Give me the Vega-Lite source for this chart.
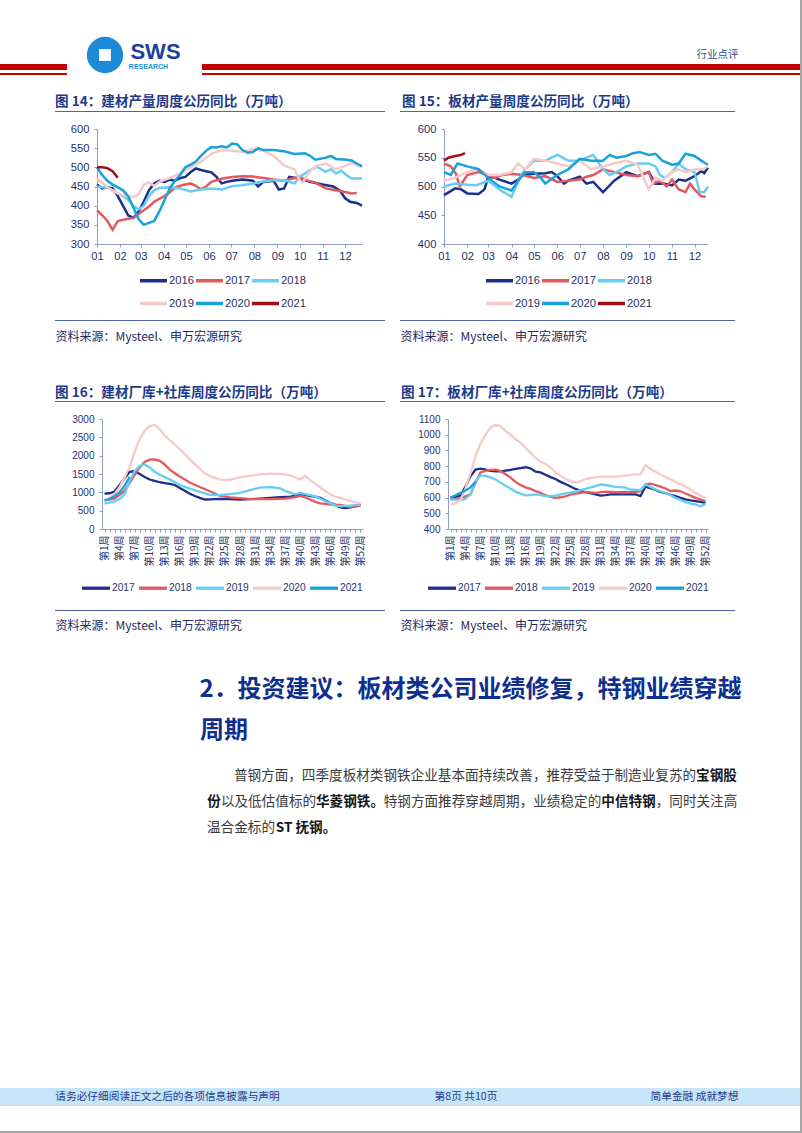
{
"$schema": "https://vega.github.io/schema/vega-lite/v6.json",
"padding": 0,
"background": "white",
"spacing": 0,
"bounds": "flush",
"data": {"values": []},
"config": {"view": {"stroke": null}, "axis": {"grid": false}},
"resolve": {"scale": {"color": "independent"}, "legend": {"color": "independent"}},
"datasets": {
"c14": [
{"d":"2021-01-01","s":"2016","v":455},{"d":"2021-01-08","s":"2016","v":445},{"d":"2021-01-15","s":"2016","v":448},{"d":"2021-01-22","s":"2016","v":445},{"d":"2021-01-29","s":"2016","v":425},{"d":"2021-02-05","s":"2016","v":400},{"d":"2021-02-12","s":"2016","v":375},{"d":"2021-02-19","s":"2016","v":368},{"d":"2021-02-26","s":"2016","v":385},{"d":"2021-03-05","s":"2016","v":410},{"d":"2021-03-12","s":"2016","v":440},{"d":"2021-03-19","s":"2016","v":458},{"d":"2021-03-26","s":"2016","v":465},{"d":"2021-04-02","s":"2016","v":462},{"d":"2021-04-09","s":"2016","v":468},{"d":"2021-04-16","s":"2016","v":465},{"d":"2021-04-23","s":"2016","v":472},{"d":"2021-04-30","s":"2016","v":475},{"d":"2021-05-07","s":"2016","v":487},{"d":"2021-05-14","s":"2016","v":497},{"d":"2021-05-21","s":"2016","v":493},{"d":"2021-05-28","s":"2016","v":490},{"d":"2021-06-04","s":"2016","v":487},{"d":"2021-06-11","s":"2016","v":475},{"d":"2021-06-18","s":"2016","v":458},{"d":"2021-06-25","s":"2016","v":462},{"d":"2021-07-02","s":"2016","v":465},{"d":"2021-07-16","s":"2016","v":468},{"d":"2021-07-30","s":"2016","v":465},{"d":"2021-08-06","s":"2016","v":450},{"d":"2021-08-13","s":"2016","v":462},{"d":"2021-08-27","s":"2016","v":465},{"d":"2021-09-03","s":"2016","v":442},{"d":"2021-09-10","s":"2016","v":445},{"d":"2021-09-17","s":"2016","v":475},{"d":"2021-09-24","s":"2016","v":473},{"d":"2021-10-01","s":"2016","v":470},{"d":"2021-10-15","s":"2016","v":462},{"d":"2021-11-01","s":"2016","v":455},{"d":"2021-11-15","s":"2016","v":450},{"d":"2021-11-24","s":"2016","v":440},{"d":"2021-12-01","s":"2016","v":420},{"d":"2021-12-08","s":"2016","v":410},{"d":"2021-12-17","s":"2016","v":407},{"d":"2021-12-24","s":"2016","v":400},
{"d":"2021-01-01","s":"2017","v":388},{"d":"2021-01-08","s":"2017","v":375},{"d":"2021-01-15","s":"2017","v":360},{"d":"2021-01-22","s":"2017","v":337},{"d":"2021-01-29","s":"2017","v":360},{"d":"2021-02-05","s":"2017","v":363},{"d":"2021-02-12","s":"2017","v":366},{"d":"2021-02-19","s":"2017","v":368},{"d":"2021-02-26","s":"2017","v":378},{"d":"2021-03-05","s":"2017","v":388},{"d":"2021-03-12","s":"2017","v":398},{"d":"2021-03-19","s":"2017","v":410},{"d":"2021-03-26","s":"2017","v":418},{"d":"2021-04-02","s":"2017","v":425},{"d":"2021-04-09","s":"2017","v":435},{"d":"2021-04-16","s":"2017","v":447},{"d":"2021-04-23","s":"2017","v":452},{"d":"2021-04-30","s":"2017","v":455},{"d":"2021-05-07","s":"2017","v":458},{"d":"2021-05-14","s":"2017","v":452},{"d":"2021-05-21","s":"2017","v":443},{"d":"2021-05-28","s":"2017","v":450},{"d":"2021-06-04","s":"2017","v":462},{"d":"2021-06-18","s":"2017","v":470},{"d":"2021-07-02","s":"2017","v":475},{"d":"2021-07-16","s":"2017","v":477},{"d":"2021-07-30","s":"2017","v":476},{"d":"2021-08-13","s":"2017","v":472},{"d":"2021-08-27","s":"2017","v":468},{"d":"2021-09-10","s":"2017","v":465},{"d":"2021-09-24","s":"2017","v":472},{"d":"2021-10-01","s":"2017","v":475},{"d":"2021-10-08","s":"2017","v":468},{"d":"2021-10-22","s":"2017","v":460},{"d":"2021-11-05","s":"2017","v":445},{"d":"2021-11-19","s":"2017","v":440},{"d":"2021-12-03","s":"2017","v":435},{"d":"2021-12-10","s":"2017","v":432},{"d":"2021-12-17","s":"2017","v":433},
{"d":"2021-01-01","s":"2018","v":450},{"d":"2021-01-08","s":"2018","v":448},{"d":"2021-01-15","s":"2018","v":447},{"d":"2021-01-22","s":"2018","v":440},{"d":"2021-01-29","s":"2018","v":432},{"d":"2021-02-05","s":"2018","v":425},{"d":"2021-02-12","s":"2018","v":415},{"d":"2021-02-19","s":"2018","v":400},{"d":"2021-02-26","s":"2018","v":390},{"d":"2021-03-05","s":"2018","v":400},{"d":"2021-03-12","s":"2018","v":425},{"d":"2021-03-19","s":"2018","v":440},{"d":"2021-03-26","s":"2018","v":446},{"d":"2021-04-09","s":"2018","v":448},{"d":"2021-04-23","s":"2018","v":445},{"d":"2021-05-07","s":"2018","v":437},{"d":"2021-05-21","s":"2018","v":442},{"d":"2021-06-04","s":"2018","v":445},{"d":"2021-06-18","s":"2018","v":442},{"d":"2021-07-02","s":"2018","v":451},{"d":"2021-07-16","s":"2018","v":453},{"d":"2021-07-30","s":"2018","v":458},{"d":"2021-08-13","s":"2018","v":463},{"d":"2021-08-27","s":"2018","v":466},{"d":"2021-09-10","s":"2018","v":467},{"d":"2021-09-24","s":"2018","v":458},{"d":"2021-10-01","s":"2018","v":475},{"d":"2021-10-15","s":"2018","v":493},{"d":"2021-10-25","s":"2018","v":501},{"d":"2021-11-05","s":"2018","v":488},{"d":"2021-11-12","s":"2018","v":495},{"d":"2021-11-19","s":"2018","v":484},{"d":"2021-11-26","s":"2018","v":491},{"d":"2021-12-03","s":"2018","v":480},{"d":"2021-12-10","s":"2018","v":471},{"d":"2021-12-24","s":"2018","v":471},
{"d":"2021-01-01","s":"2019","v":470},{"d":"2021-01-08","s":"2019","v":460},{"d":"2021-01-15","s":"2019","v":448},{"d":"2021-01-22","s":"2019","v":440},{"d":"2021-01-29","s":"2019","v":432},{"d":"2021-02-05","s":"2019","v":428},{"d":"2021-02-12","s":"2019","v":425},{"d":"2021-02-19","s":"2019","v":422},{"d":"2021-02-26","s":"2019","v":430},{"d":"2021-03-05","s":"2019","v":455},{"d":"2021-03-12","s":"2019","v":460},{"d":"2021-03-19","s":"2019","v":452},{"d":"2021-03-26","s":"2019","v":462},{"d":"2021-04-09","s":"2019","v":472},{"d":"2021-04-23","s":"2019","v":485},{"d":"2021-05-07","s":"2019","v":500},{"d":"2021-05-21","s":"2019","v":515},{"d":"2021-06-04","s":"2019","v":535},{"d":"2021-06-18","s":"2019","v":545},{"d":"2021-07-02","s":"2019","v":543},{"d":"2021-07-16","s":"2019","v":540},{"d":"2021-07-30","s":"2019","v":548},{"d":"2021-08-13","s":"2019","v":543},{"d":"2021-08-27","s":"2019","v":530},{"d":"2021-09-10","s":"2019","v":505},{"d":"2021-09-24","s":"2019","v":495},{"d":"2021-10-01","s":"2019","v":467},{"d":"2021-10-05","s":"2019","v":460},{"d":"2021-10-15","s":"2019","v":490},{"d":"2021-10-25","s":"2019","v":505},{"d":"2021-11-05","s":"2019","v":510},{"d":"2021-11-12","s":"2019","v":502},{"d":"2021-11-19","s":"2019","v":495},{"d":"2021-12-03","s":"2019","v":505},{"d":"2021-12-10","s":"2019","v":512},{"d":"2021-12-17","s":"2019","v":505},{"d":"2021-12-24","s":"2019","v":500},
{"d":"2021-01-01","s":"2020","v":500},{"d":"2021-01-08","s":"2020","v":480},{"d":"2021-01-15","s":"2020","v":465},{"d":"2021-01-22","s":"2020","v":455},{"d":"2021-01-29","s":"2020","v":448},{"d":"2021-02-05","s":"2020","v":440},{"d":"2021-02-12","s":"2020","v":425},{"d":"2021-02-19","s":"2020","v":395},{"d":"2021-02-26","s":"2020","v":365},{"d":"2021-03-05","s":"2020","v":350},{"d":"2021-03-12","s":"2020","v":355},{"d":"2021-03-19","s":"2020","v":360},{"d":"2021-03-26","s":"2020","v":385},{"d":"2021-04-02","s":"2020","v":415},{"d":"2021-04-09","s":"2020","v":445},{"d":"2021-04-16","s":"2020","v":465},{"d":"2021-04-23","s":"2020","v":480},{"d":"2021-04-30","s":"2020","v":500},{"d":"2021-05-07","s":"2020","v":507},{"d":"2021-05-14","s":"2020","v":515},{"d":"2021-05-21","s":"2020","v":530},{"d":"2021-05-28","s":"2020","v":543},{"d":"2021-06-04","s":"2020","v":553},{"d":"2021-06-11","s":"2020","v":552},{"d":"2021-06-18","s":"2020","v":555},{"d":"2021-06-25","s":"2020","v":552},{"d":"2021-07-02","s":"2020","v":562},{"d":"2021-07-09","s":"2020","v":560},{"d":"2021-07-16","s":"2020","v":545},{"d":"2021-07-23","s":"2020","v":538},{"d":"2021-07-30","s":"2020","v":540},{"d":"2021-08-06","s":"2020","v":550},{"d":"2021-08-13","s":"2020","v":545},{"d":"2021-08-27","s":"2020","v":545},{"d":"2021-09-10","s":"2020","v":542},{"d":"2021-09-24","s":"2020","v":535},{"d":"2021-10-08","s":"2020","v":537},{"d":"2021-10-15","s":"2020","v":530},{"d":"2021-10-22","s":"2020","v":520},{"d":"2021-11-05","s":"2020","v":525},{"d":"2021-11-12","s":"2020","v":530},{"d":"2021-11-19","s":"2020","v":522},{"d":"2021-12-03","s":"2020","v":520},{"d":"2021-12-10","s":"2020","v":518},{"d":"2021-12-17","s":"2020","v":510},{"d":"2021-12-24","s":"2020","v":503},
{"d":"2021-01-01","s":"2021","v":500},{"d":"2021-01-08","s":"2021","v":500},{"d":"2021-01-15","s":"2021","v":498},{"d":"2021-01-22","s":"2021","v":490},{"d":"2021-01-29","s":"2021","v":473}
],
"c15": [
{"d":"2021-01-01","s":"2016","v":485},{"d":"2021-01-10","s":"2016","v":492},{"d":"2021-01-16","s":"2016","v":497},{"d":"2021-01-24","s":"2016","v":495},{"d":"2021-02-01","s":"2016","v":488},{"d":"2021-02-16","s":"2016","v":487},{"d":"2021-02-24","s":"2016","v":495},{"d":"2021-03-01","s":"2016","v":517},{"d":"2021-03-10","s":"2016","v":515},{"d":"2021-03-16","s":"2016","v":512},{"d":"2021-04-01","s":"2016","v":505},{"d":"2021-04-10","s":"2016","v":512},{"d":"2021-04-16","s":"2016","v":520},{"d":"2021-05-01","s":"2016","v":522},{"d":"2021-05-16","s":"2016","v":523},{"d":"2021-05-25","s":"2016","v":525},{"d":"2021-06-01","s":"2016","v":518},{"d":"2021-06-10","s":"2016","v":505},{"d":"2021-06-16","s":"2016","v":510},{"d":"2021-07-01","s":"2016","v":517},{"d":"2021-07-10","s":"2016","v":505},{"d":"2021-07-19","s":"2016","v":508},{"d":"2021-08-01","s":"2016","v":490},{"d":"2021-08-16","s":"2016","v":510},{"d":"2021-09-01","s":"2016","v":525},{"d":"2021-09-16","s":"2016","v":518},{"d":"2021-10-01","s":"2016","v":525},{"d":"2021-10-10","s":"2016","v":505},{"d":"2021-10-22","s":"2016","v":505},{"d":"2021-11-01","s":"2016","v":502},{"d":"2021-11-10","s":"2016","v":512},{"d":"2021-11-19","s":"2016","v":510},{"d":"2021-12-01","s":"2016","v":518},{"d":"2021-12-10","s":"2016","v":527},{"d":"2021-12-14","s":"2016","v":523},{"d":"2021-12-19","s":"2016","v":533},
{"d":"2021-01-01","s":"2017","v":540},{"d":"2021-01-10","s":"2017","v":535},{"d":"2021-01-17","s":"2017","v":522},{"d":"2021-01-22","s":"2017","v":500},{"d":"2021-02-01","s":"2017","v":520},{"d":"2021-02-16","s":"2017","v":525},{"d":"2021-03-01","s":"2017","v":520},{"d":"2021-03-10","s":"2017","v":515},{"d":"2021-03-19","s":"2017","v":520},{"d":"2021-04-01","s":"2017","v":522},{"d":"2021-04-16","s":"2017","v":520},{"d":"2021-05-01","s":"2017","v":515},{"d":"2021-05-16","s":"2017","v":518},{"d":"2021-06-01","s":"2017","v":508},{"d":"2021-06-16","s":"2017","v":510},{"d":"2021-07-01","s":"2017","v":512},{"d":"2021-07-10","s":"2017","v":517},{"d":"2021-07-19","s":"2017","v":520},{"d":"2021-08-01","s":"2017","v":530},{"d":"2021-08-16","s":"2017","v":525},{"d":"2021-09-01","s":"2017","v":520},{"d":"2021-09-16","s":"2017","v":518},{"d":"2021-10-01","s":"2017","v":525},{"d":"2021-10-07","s":"2017","v":505},{"d":"2021-10-16","s":"2017","v":510},{"d":"2021-10-25","s":"2017","v":500},{"d":"2021-11-01","s":"2017","v":512},{"d":"2021-11-10","s":"2017","v":495},{"d":"2021-11-19","s":"2017","v":490},{"d":"2021-11-25","s":"2017","v":505},{"d":"2021-12-01","s":"2017","v":495},{"d":"2021-12-10","s":"2017","v":483},{"d":"2021-12-16","s":"2017","v":482},
{"d":"2021-01-01","s":"2018","v":500},{"d":"2021-01-16","s":"2018","v":505},{"d":"2021-02-01","s":"2018","v":503},{"d":"2021-02-13","s":"2018","v":502},{"d":"2021-03-01","s":"2018","v":510},{"d":"2021-03-16","s":"2018","v":495},{"d":"2021-04-01","s":"2018","v":482},{"d":"2021-04-10","s":"2018","v":510},{"d":"2021-04-19","s":"2018","v":530},{"d":"2021-05-01","s":"2018","v":545},{"d":"2021-05-16","s":"2018","v":545},{"d":"2021-06-01","s":"2018","v":555},{"d":"2021-06-16","s":"2018","v":545},{"d":"2021-07-01","s":"2018","v":545},{"d":"2021-07-10","s":"2018","v":550},{"d":"2021-07-19","s":"2018","v":555},{"d":"2021-08-01","s":"2018","v":530},{"d":"2021-08-10","s":"2018","v":520},{"d":"2021-08-19","s":"2018","v":525},{"d":"2021-09-01","s":"2018","v":535},{"d":"2021-09-16","s":"2018","v":540},{"d":"2021-10-01","s":"2018","v":540},{"d":"2021-10-10","s":"2018","v":535},{"d":"2021-10-16","s":"2018","v":520},{"d":"2021-10-22","s":"2018","v":515},{"d":"2021-11-01","s":"2018","v":525},{"d":"2021-11-10","s":"2018","v":540},{"d":"2021-11-19","s":"2018","v":530},{"d":"2021-12-01","s":"2018","v":525},{"d":"2021-12-08","s":"2018","v":490},{"d":"2021-12-14","s":"2018","v":490},{"d":"2021-12-19","s":"2018","v":500},
{"d":"2021-01-01","s":"2019","v":510},{"d":"2021-01-16","s":"2019","v":515},{"d":"2021-02-01","s":"2019","v":525},{"d":"2021-02-16","s":"2019","v":530},{"d":"2021-03-01","s":"2019","v":520},{"d":"2021-03-16","s":"2019","v":520},{"d":"2021-04-01","s":"2019","v":525},{"d":"2021-04-10","s":"2019","v":540},{"d":"2021-04-19","s":"2019","v":530},{"d":"2021-05-01","s":"2019","v":548},{"d":"2021-05-16","s":"2019","v":545},{"d":"2021-06-01","s":"2019","v":540},{"d":"2021-06-16","s":"2019","v":535},{"d":"2021-07-01","s":"2019","v":545},{"d":"2021-07-16","s":"2019","v":530},{"d":"2021-08-01","s":"2019","v":535},{"d":"2021-08-16","s":"2019","v":540},{"d":"2021-09-01","s":"2019","v":545},{"d":"2021-09-16","s":"2019","v":538},{"d":"2021-10-01","s":"2019","v":495},{"d":"2021-10-10","s":"2019","v":515},{"d":"2021-10-19","s":"2019","v":510},{"d":"2021-11-01","s":"2019","v":525},{"d":"2021-11-10","s":"2019","v":530},{"d":"2021-11-19","s":"2019","v":525},{"d":"2021-12-01","s":"2019","v":530},{"d":"2021-12-12","s":"2019","v":530},{"d":"2021-12-19","s":"2019","v":535},
{"d":"2021-01-01","s":"2020","v":525},{"d":"2021-01-10","s":"2020","v":520},{"d":"2021-01-19","s":"2020","v":540},{"d":"2021-02-01","s":"2020","v":535},{"d":"2021-02-16","s":"2020","v":530},{"d":"2021-03-01","s":"2020","v":515},{"d":"2021-03-16","s":"2020","v":500},{"d":"2021-04-01","s":"2020","v":493},{"d":"2021-04-10","s":"2020","v":510},{"d":"2021-04-19","s":"2020","v":525},{"d":"2021-05-01","s":"2020","v":525},{"d":"2021-05-10","s":"2020","v":515},{"d":"2021-05-16","s":"2020","v":505},{"d":"2021-06-01","s":"2020","v":520},{"d":"2021-06-16","s":"2020","v":530},{"d":"2021-07-01","s":"2020","v":548},{"d":"2021-07-16","s":"2020","v":545},{"d":"2021-08-01","s":"2020","v":545},{"d":"2021-08-10","s":"2020","v":555},{"d":"2021-08-19","s":"2020","v":550},{"d":"2021-09-01","s":"2020","v":553},{"d":"2021-09-10","s":"2020","v":558},{"d":"2021-09-19","s":"2020","v":560},{"d":"2021-10-01","s":"2020","v":555},{"d":"2021-10-10","s":"2020","v":557},{"d":"2021-10-19","s":"2020","v":545},{"d":"2021-11-01","s":"2020","v":538},{"d":"2021-11-10","s":"2020","v":540},{"d":"2021-11-19","s":"2020","v":557},{"d":"2021-12-01","s":"2020","v":553},{"d":"2021-12-10","s":"2020","v":545},{"d":"2021-12-16","s":"2020","v":540},{"d":"2021-12-19","s":"2020","v":538},
{"d":"2021-01-01","s":"2021","v":545},{"d":"2021-01-07","s":"2021","v":550},{"d":"2021-01-16","s":"2021","v":553},{"d":"2021-01-24","s":"2021","v":555},{"d":"2021-01-29","s":"2021","v":558}
],
"c16": [
{"w":1,"s":"2017","v":964},{"w":2,"s":"2017","v":975},{"w":3,"s":"2017","v":1020},{"w":4,"s":"2017","v":1200},{"w":5,"s":"2017","v":1380},{"w":6,"s":"2017","v":1560},{"w":7,"s":"2017","v":1575},{"w":8,"s":"2017","v":1500},{"w":9,"s":"2017","v":1420},{"w":10,"s":"2017","v":1350},{"w":11,"s":"2017","v":1310},{"w":12,"s":"2017","v":1275},{"w":13,"s":"2017","v":1250},{"w":14,"s":"2017","v":1230},{"w":15,"s":"2017","v":1200},{"w":16,"s":"2017","v":1120},{"w":17,"s":"2017","v":1040},{"w":18,"s":"2017","v":960},{"w":19,"s":"2017","v":900},{"w":20,"s":"2017","v":850},{"w":21,"s":"2017","v":805},{"w":22,"s":"2017","v":810},{"w":24,"s":"2017","v":820},{"w":26,"s":"2017","v":815},{"w":28,"s":"2017","v":800},{"w":30,"s":"2017","v":815},{"w":32,"s":"2017","v":830},{"w":34,"s":"2017","v":850},{"w":36,"s":"2017","v":870},{"w":38,"s":"2017","v":880},{"w":39,"s":"2017","v":900},{"w":40,"s":"2017","v":955},{"w":41,"s":"2017","v":930},{"w":42,"s":"2017","v":900},{"w":43,"s":"2017","v":885},{"w":44,"s":"2017","v":850},{"w":45,"s":"2017","v":780},{"w":46,"s":"2017","v":710},{"w":47,"s":"2017","v":650},{"w":48,"s":"2017","v":590},{"w":49,"s":"2017","v":570},{"w":50,"s":"2017","v":590},{"w":51,"s":"2017","v":620},{"w":52,"s":"2017","v":660},
{"w":1,"s":"2018","v":780},{"w":3,"s":"2018","v":830},{"w":4,"s":"2018","v":930},{"w":5,"s":"2018","v":1050},{"w":6,"s":"2018","v":1250},{"w":7,"s":"2018","v":1480},{"w":8,"s":"2018","v":1680},{"w":9,"s":"2018","v":1830},{"w":10,"s":"2018","v":1890},{"w":11,"s":"2018","v":1895},{"w":12,"s":"2018","v":1860},{"w":13,"s":"2018","v":1760},{"w":14,"s":"2018","v":1620},{"w":15,"s":"2018","v":1520},{"w":16,"s":"2018","v":1430},{"w":18,"s":"2018","v":1270},{"w":20,"s":"2018","v":1145},{"w":22,"s":"2018","v":1030},{"w":24,"s":"2018","v":900},{"w":26,"s":"2018","v":865},{"w":28,"s":"2018","v":840},{"w":30,"s":"2018","v":815},{"w":34,"s":"2018","v":815},{"w":37,"s":"2018","v":830},{"w":39,"s":"2018","v":870},{"w":40,"s":"2018","v":905},{"w":41,"s":"2018","v":860},{"w":42,"s":"2018","v":800},{"w":43,"s":"2018","v":740},{"w":44,"s":"2018","v":700},{"w":46,"s":"2018","v":665},{"w":48,"s":"2018","v":660},{"w":50,"s":"2018","v":600},{"w":52,"s":"2018","v":640},
{"w":1,"s":"2019","v":690},{"w":3,"s":"2019","v":750},{"w":4,"s":"2019","v":820},{"w":5,"s":"2019","v":950},{"w":6,"s":"2019","v":1300},{"w":7,"s":"2019","v":1580},{"w":8,"s":"2019","v":1720},{"w":9,"s":"2019","v":1760},{"w":10,"s":"2019","v":1680},{"w":11,"s":"2019","v":1560},{"w":12,"s":"2019","v":1480},{"w":13,"s":"2019","v":1420},{"w":14,"s":"2019","v":1350},{"w":16,"s":"2019","v":1200},{"w":18,"s":"2019","v":1100},{"w":20,"s":"2019","v":1010},{"w":22,"s":"2019","v":930},{"w":24,"s":"2019","v":920},{"w":26,"s":"2019","v":950},{"w":28,"s":"2019","v":985},{"w":30,"s":"2019","v":1060},{"w":32,"s":"2019","v":1130},{"w":34,"s":"2019","v":1145},{"w":36,"s":"2019","v":1110},{"w":37,"s":"2019","v":1040},{"w":38,"s":"2019","v":990},{"w":39,"s":"2019","v":945},{"w":40,"s":"2019","v":985},{"w":41,"s":"2019","v":950},{"w":43,"s":"2019","v":890},{"w":45,"s":"2019","v":760},{"w":47,"s":"2019","v":640},{"w":48,"s":"2019","v":620},{"w":50,"s":"2019","v":640},{"w":52,"s":"2019","v":665},
{"w":1,"s":"2020","v":750},{"w":3,"s":"2020","v":950},{"w":4,"s":"2020","v":1150},{"w":5,"s":"2020","v":1400},{"w":6,"s":"2020","v":1700},{"w":7,"s":"2020","v":2100},{"w":8,"s":"2020","v":2450},{"w":9,"s":"2020","v":2680},{"w":10,"s":"2020","v":2800},{"w":11,"s":"2020","v":2845},{"w":12,"s":"2020","v":2720},{"w":13,"s":"2020","v":2550},{"w":14,"s":"2020","v":2420},{"w":15,"s":"2020","v":2300},{"w":16,"s":"2020","v":2180},{"w":17,"s":"2020","v":2040},{"w":18,"s":"2020","v":1900},{"w":19,"s":"2020","v":1770},{"w":20,"s":"2020","v":1640},{"w":21,"s":"2020","v":1520},{"w":22,"s":"2020","v":1440},{"w":24,"s":"2020","v":1345},{"w":26,"s":"2020","v":1340},{"w":28,"s":"2020","v":1415},{"w":30,"s":"2020","v":1450},{"w":32,"s":"2020","v":1490},{"w":34,"s":"2020","v":1510},{"w":36,"s":"2020","v":1505},{"w":38,"s":"2020","v":1465},{"w":39,"s":"2020","v":1400},{"w":40,"s":"2020","v":1350},{"w":41,"s":"2020","v":1450},{"w":42,"s":"2020","v":1330},{"w":43,"s":"2020","v":1230},{"w":44,"s":"2020","v":1130},{"w":45,"s":"2020","v":1030},{"w":46,"s":"2020","v":940},{"w":47,"s":"2020","v":880},{"w":48,"s":"2020","v":845},{"w":50,"s":"2020","v":760},{"w":52,"s":"2020","v":700},
{"w":1,"s":"2021","v":780},{"w":2,"s":"2021","v":820},{"w":3,"s":"2021","v":900},{"w":4,"s":"2021","v":1000},{"w":5,"s":"2021","v":1180},{"w":6,"s":"2021","v":1420}
],
"c17": [
{"w":1,"s":"2017","v":600},{"w":2,"s":"2017","v":605},{"w":3,"s":"2017","v":613},{"w":4,"s":"2017","v":670},{"w":5,"s":"2017","v":735},{"w":6,"s":"2017","v":778},{"w":7,"s":"2017","v":784},{"w":8,"s":"2017","v":778},{"w":9,"s":"2017","v":770},{"w":10,"s":"2017","v":767},{"w":11,"s":"2017","v":767},{"w":12,"s":"2017","v":772},{"w":13,"s":"2017","v":776},{"w":14,"s":"2017","v":783},{"w":15,"s":"2017","v":788},{"w":16,"s":"2017","v":793},{"w":17,"s":"2017","v":786},{"w":18,"s":"2017","v":765},{"w":19,"s":"2017","v":760},{"w":20,"s":"2017","v":745},{"w":21,"s":"2017","v":730},{"w":22,"s":"2017","v":718},{"w":23,"s":"2017","v":700},{"w":24,"s":"2017","v":686},{"w":25,"s":"2017","v":670},{"w":26,"s":"2017","v":655},{"w":27,"s":"2017","v":643},{"w":28,"s":"2017","v":635},{"w":29,"s":"2017","v":628},{"w":30,"s":"2017","v":620},{"w":31,"s":"2017","v":612},{"w":32,"s":"2017","v":615},{"w":33,"s":"2017","v":620},{"w":35,"s":"2017","v":620},{"w":37,"s":"2017","v":620},{"w":38,"s":"2017","v":620},{"w":39,"s":"2017","v":610},{"w":40,"s":"2017","v":670},{"w":41,"s":"2017","v":660},{"w":42,"s":"2017","v":648},{"w":43,"s":"2017","v":636},{"w":44,"s":"2017","v":628},{"w":45,"s":"2017","v":618},{"w":46,"s":"2017","v":609},{"w":47,"s":"2017","v":598},{"w":48,"s":"2017","v":588},{"w":49,"s":"2017","v":582},{"w":50,"s":"2017","v":577},{"w":51,"s":"2017","v":572},{"w":52,"s":"2017","v":566},
{"w":1,"s":"2018","v":588},{"w":2,"s":"2018","v":592},{"w":3,"s":"2018","v":596},{"w":4,"s":"2018","v":608},{"w":5,"s":"2018","v":620},{"w":6,"s":"2018","v":695},{"w":7,"s":"2018","v":760},{"w":8,"s":"2018","v":770},{"w":9,"s":"2018","v":776},{"w":10,"s":"2018","v":778},{"w":11,"s":"2018","v":768},{"w":12,"s":"2018","v":750},{"w":13,"s":"2018","v":727},{"w":14,"s":"2018","v":700},{"w":15,"s":"2018","v":680},{"w":16,"s":"2018","v":665},{"w":17,"s":"2018","v":655},{"w":18,"s":"2018","v":642},{"w":19,"s":"2018","v":630},{"w":20,"s":"2018","v":615},{"w":21,"s":"2018","v":605},{"w":22,"s":"2018","v":598},{"w":23,"s":"2018","v":602},{"w":24,"s":"2018","v":608},{"w":25,"s":"2018","v":618},{"w":26,"s":"2018","v":626},{"w":27,"s":"2018","v":630},{"w":28,"s":"2018","v":635},{"w":30,"s":"2018","v":630},{"w":32,"s":"2018","v":638},{"w":34,"s":"2018","v":635},{"w":36,"s":"2018","v":635},{"w":38,"s":"2018","v":635},{"w":39,"s":"2018","v":640},{"w":40,"s":"2018","v":684},{"w":41,"s":"2018","v":688},{"w":42,"s":"2018","v":680},{"w":43,"s":"2018","v":670},{"w":44,"s":"2018","v":658},{"w":45,"s":"2018","v":642},{"w":46,"s":"2018","v":645},{"w":47,"s":"2018","v":640},{"w":48,"s":"2018","v":626},{"w":50,"s":"2018","v":598},{"w":52,"s":"2018","v":577},
{"w":1,"s":"2019","v":588},{"w":3,"s":"2019","v":584},{"w":4,"s":"2019","v":592},{"w":5,"s":"2019","v":620},{"w":6,"s":"2019","v":705},{"w":7,"s":"2019","v":741},{"w":8,"s":"2019","v":738},{"w":9,"s":"2019","v":728},{"w":10,"s":"2019","v":715},{"w":11,"s":"2019","v":695},{"w":12,"s":"2019","v":675},{"w":13,"s":"2019","v":658},{"w":14,"s":"2019","v":638},{"w":15,"s":"2019","v":625},{"w":16,"s":"2019","v":614},{"w":17,"s":"2019","v":615},{"w":18,"s":"2019","v":620},{"w":19,"s":"2019","v":615},{"w":20,"s":"2019","v":610},{"w":21,"s":"2019","v":610},{"w":22,"s":"2019","v":613},{"w":24,"s":"2019","v":626},{"w":26,"s":"2019","v":638},{"w":28,"s":"2019","v":655},{"w":30,"s":"2019","v":673},{"w":31,"s":"2019","v":684},{"w":32,"s":"2019","v":680},{"w":34,"s":"2019","v":668},{"w":36,"s":"2019","v":663},{"w":37,"s":"2019","v":650},{"w":39,"s":"2019","v":648},{"w":40,"s":"2019","v":684},{"w":41,"s":"2019","v":668},{"w":42,"s":"2019","v":652},{"w":43,"s":"2019","v":640},{"w":44,"s":"2019","v":630},{"w":45,"s":"2019","v":615},{"w":46,"s":"2019","v":598},{"w":47,"s":"2019","v":585},{"w":48,"s":"2019","v":571},{"w":49,"s":"2019","v":562},{"w":50,"s":"2019","v":556},{"w":51,"s":"2019","v":545},{"w":52,"s":"2019","v":560},
{"w":1,"s":"2020","v":555},{"w":2,"s":"2020","v":565},{"w":3,"s":"2020","v":584},{"w":4,"s":"2020","v":660},{"w":5,"s":"2020","v":755},{"w":6,"s":"2020","v":860},{"w":7,"s":"2020","v":945},{"w":8,"s":"2020","v":1000},{"w":9,"s":"2020","v":1045},{"w":10,"s":"2020","v":1063},{"w":11,"s":"2020","v":1053},{"w":12,"s":"2020","v":1025},{"w":13,"s":"2020","v":1000},{"w":14,"s":"2020","v":972},{"w":15,"s":"2020","v":950},{"w":16,"s":"2020","v":918},{"w":17,"s":"2020","v":885},{"w":18,"s":"2020","v":852},{"w":19,"s":"2020","v":830},{"w":20,"s":"2020","v":815},{"w":21,"s":"2020","v":790},{"w":22,"s":"2020","v":762},{"w":23,"s":"2020","v":740},{"w":24,"s":"2020","v":718},{"w":25,"s":"2020","v":705},{"w":26,"s":"2020","v":696},{"w":27,"s":"2020","v":705},{"w":28,"s":"2020","v":718},{"w":30,"s":"2020","v":730},{"w":32,"s":"2020","v":733},{"w":34,"s":"2020","v":733},{"w":36,"s":"2020","v":740},{"w":38,"s":"2020","v":748},{"w":39,"s":"2020","v":748},{"w":40,"s":"2020","v":806},{"w":41,"s":"2020","v":782},{"w":42,"s":"2020","v":765},{"w":43,"s":"2020","v":745},{"w":44,"s":"2020","v":730},{"w":45,"s":"2020","v":716},{"w":46,"s":"2020","v":700},{"w":47,"s":"2020","v":685},{"w":48,"s":"2020","v":670},{"w":49,"s":"2020","v":650},{"w":50,"s":"2020","v":630},{"w":51,"s":"2020","v":612},{"w":52,"s":"2020","v":598},
{"w":1,"s":"2021","v":598},{"w":2,"s":"2021","v":615},{"w":3,"s":"2021","v":630},{"w":4,"s":"2021","v":645},{"w":5,"s":"2021","v":665},{"w":6,"s":"2021","v":700}
]
},
"vconcat": [
{"hconcat":[{"width":800,"height":1,"mark":"rect"},{"width":2,"height":1133,"mark":"rect","view":{"fill":"#A6A6A6"}}],"spacing":0,"bounds":"flush"},
{"width":1,"height":43,"mark":"rect"},
{"hconcat":[
 {"width":125,"height":18,"mark":"rect"},
 {"width":61,"height":18,"data":{"values":[{}]},"mark":{"type":"text","text":"SWS","font":"Liberation Sans","fontSize":22,"fontWeight":"bold","color":"#1E3F9A"}}
],"spacing":0,"bounds":"flush"},
{"width":1,"height":3,"mark":"rect"},
{"hconcat":[
 {"width":85,"height":18,"mark":"rect"},
 {"width":40,"height":18,"data":{"values":[{}]},"layer":[
  {"mark":{"type":"point","shape":"circle","size":1320,"filled":true,"color":"#1C8AD6","opacity":1}},
  {"mark":{"type":"point","shape":"square","size":140,"filled":true,"color":"#FFFFFF","opacity":1}}
 ]},
 {"width":572,"height":18,"mark":"rect"},
 {"width":41,"height":18,"data":{"values":[{}]},"mark":{"type":"text","text":"行业点评","font":"Noto Sans CJK SC","fontSize":10.5,"color":"#2E4F8E"}}
],"spacing":0,"bounds":"flush"},
{"width":1,"height":18,"mark":"rect"},
{"hconcat":[
 {"width":67,"height":6,"mark":"rect","view":{"fill":"#C00000"}},
 {"width":62,"height":6,"mark":"rect"},
 {"width":39,"height":6,"data":{"values":[{}]},"mark":{"type":"text","text":"RESEARCH","font":"Liberation Sans","fontSize":7,"fontWeight":"bold","color":"#1E8FD6"}},
 {"width":34,"height":6,"mark":"rect"},
 {"width":598,"height":6,"mark":"rect","view":{"fill":"#C00000"}}
],"spacing":0,"bounds":"flush"},
{"width":1,"height":9,"mark":"rect"},
{"hconcat":[
 {"width":67,"height":2,"mark":"rect","view":{"fill":"#C00000"}},
 {"width":135,"height":2,"mark":"rect"},
 {"width":598,"height":2,"mark":"rect","view":{"fill":"#C00000"}}
],"spacing":0,"bounds":"flush"},
{"width":1,"height":38,"mark":"rect"},
{"hconcat":[{"width":55,"height":1,"mark":"rect"},{"width":330,"height":1,"mark":"rect","view":{"fill":"#4F64A6"}},{"width":15,"height":1,"mark":"rect"},{"width":335,"height":1,"mark":"rect","view":{"fill":"#4F64A6"}}],"spacing":0,"bounds":"flush"},
{"width":1,"height":18,"mark":"rect"},
{"hconcat":[
 {"width":97,"height":115,"mark":"rect"},
 {"width":265,"height":115,"data":{"name":"c14"},
  "title":{"text":"图 14：建材产量周度公历同比（万吨）","anchor":"start","frame":"group","dx":-42,"offset":0,"baseline":"bottom","font":"Noto Sans CJK SC","fontSize":13.6,"fontWeight":"bold","color":"#1D3A8A"},
  "mark":{"type":"line","strokeWidth":2.5},
  "encoding":{
   "x":{"field":"d","type":"temporal","scale":{"type":"utc","domain":[{"year":2021,"month":1,"date":1,"utc":true},{"year":2021,"month":12,"date":24,"utc":true}]},
    "axis":{"labelExpr":"utcFormat(datum.value, '%m')","tickCount":{"interval":"month","step":1},"labelFlush":false,"labelOverlap":false,"labelFont":"Liberation Sans","labelFontSize":11.2,"labelColor":"#1F3268","labelPadding":3.5,"tickSize":3,"tickColor":"#8D9DC6","domainColor":"#8D9DC6","grid":false,
     "title":"资料来源：Mysteel、申万宏源研究","titleX":-42,"titleY":92,"titleAlign":"left","titleAnchor":"start","titleBaseline":"middle","titleFont":"Noto Sans CJK SC","titleFontSize":12,"titleFontWeight":"normal","titleColor":"#1F2A5C"}},
   "y":{"field":"v","type":"quantitative","scale":{"domain":[300,600],"nice":false,"zero":false},
    "axis":{"values":[300,350,400,450,500,550,600],"labelFont":"Liberation Sans","labelFontSize":11.2,"labelColor":"#1F3268","labelPadding":5,"tickSize":3,"tickColor":"#8D9DC6","domainColor":"#8D9DC6","grid":false,"title":null}},
   "color":{"field":"s","type":"nominal","scale":{"domain":["2016","2017","2018","2019","2020","2021"],"range":["#1B2F8A","#E3595C","#66CDF3","#F6C9C9","#17A2DC","#A10D17"]},
    "legend":{"orient":"none","legendX":41,"legendY":136,"direction":"horizontal","columns":3,"title":null,"padding":0,"symbolType":"stroke","symbolSize":729,"symbolStrokeWidth":3.5,"labelFont":"Liberation Sans","labelFontSize":11.2,"labelColor":"#1F3268","labelOffset":0,"columnPadding":-7,"rowPadding":-6}}
  }},
 {"width":82,"height":115,"mark":"rect"},
 {"width":264,"height":115,"data":{"name":"c15"},
  "title":{"text":"图 15：板材产量周度公历同比（万吨）","anchor":"start","frame":"group","dx":-42,"offset":0,"baseline":"bottom","font":"Noto Sans CJK SC","fontSize":13.6,"fontWeight":"bold","color":"#1D3A8A"},
  "mark":{"type":"line","strokeWidth":2.5},
  "encoding":{
   "x":{"field":"d","type":"temporal","scale":{"type":"utc","domain":[{"year":2021,"month":1,"date":1,"utc":true},{"year":2021,"month":12,"date":19,"utc":true}]},
    "axis":{"labelExpr":"utcFormat(datum.value, '%m')","tickCount":{"interval":"month","step":1},"labelFlush":false,"labelOverlap":false,"labelFont":"Liberation Sans","labelFontSize":11.2,"labelColor":"#1F3268","labelPadding":3.5,"tickSize":3,"tickColor":"#8D9DC6","domainColor":"#8D9DC6","grid":false,
     "title":"资料来源：Mysteel、申万宏源研究","titleX":-44,"titleY":92,"titleAlign":"left","titleAnchor":"start","titleBaseline":"middle","titleFont":"Noto Sans CJK SC","titleFontSize":12,"titleFontWeight":"normal","titleColor":"#1F2A5C"}},
   "y":{"field":"v","type":"quantitative","scale":{"domain":[400,600],"nice":false,"zero":false},
    "axis":{"values":[400,450,500,550,600],"labelFont":"Liberation Sans","labelFontSize":11.2,"labelColor":"#1F3268","labelPadding":5,"tickSize":3,"tickColor":"#8D9DC6","domainColor":"#8D9DC6","grid":false,"title":null}},
   "color":{"field":"s","type":"nominal","scale":{"domain":["2016","2017","2018","2019","2020","2021"],"range":["#1B2F8A","#E3595C","#66CDF3","#F6C9C9","#17A2DC","#A10D17"]},
    "legend":{"orient":"none","legendX":40,"legendY":136,"direction":"horizontal","columns":3,"title":null,"padding":0,"symbolType":"stroke","symbolSize":729,"symbolStrokeWidth":3.5,"labelFont":"Liberation Sans","labelFontSize":11.2,"labelColor":"#1F3268","labelOffset":0,"columnPadding":-7,"rowPadding":-6}}
  }}
],"spacing":0,"bounds":"flush","resolve":{"scale":{"color":"independent"},"legend":{"color":"independent"}}},
{"width":1,"height":191,"mark":"rect"},
{"hconcat":[{"width":55,"height":1,"mark":"rect"},{"width":330,"height":1,"mark":"rect","view":{"fill":"#4F64A6"}},{"width":15,"height":1,"mark":"rect"},{"width":335,"height":1,"mark":"rect","view":{"fill":"#4F64A6"}}],"spacing":0,"bounds":"flush"},
{"width":1,"height":81,"mark":"rect"},
{"hconcat":[{"width":55,"height":1,"mark":"rect"},{"width":330,"height":1,"mark":"rect","view":{"fill":"#4F64A6"}},{"width":15,"height":1,"mark":"rect"},{"width":335,"height":1,"mark":"rect","view":{"fill":"#4F64A6"}}],"spacing":0,"bounds":"flush"},
{"width":1,"height":18,"mark":"rect"},
{"hconcat":[
 {"width":102,"height":110,"mark":"rect"},
 {"width":261,"height":110,"data":{"name":"c16"},
  "title":{"text":"图 16：建材厂库+社库周度公历同比（万吨）","anchor":"start","frame":"group","dx":-47,"offset":0,"baseline":"bottom","font":"Noto Sans CJK SC","fontSize":13.6,"fontWeight":"bold","color":"#1D3A8A"},
  "mark":{"type":"line","strokeWidth":2.3},
  "encoding":{
   "x":{"field":"w","type":"quantitative","scale":{"domain":[0.5,52.5],"nice":false,"zero":false},
    "axis":{"values":[1,2,3,4,5,6,7,8,9,10,11,12,13,14,15,16,17,18,19,20,21,22,23,24,25,26,27,28,29,30,31,32,33,34,35,36,37,38,39,40,41,42,43,44,45,46,47,48,49,50,51,52],"labelExpr":"(datum.value - 1) % 3 == 0 ? '第' + datum.value + '周' : ''","labelAngle":-90,"labelAlign":"right","labelBaseline":"middle","labelFlush":false,"labelOverlap":false,"labelFont":"Noto Sans CJK SC","labelFontSize":10,"labelColor":"#1F3268","labelPadding":3,"tickSize":3,"tickColor":"#8D9DC6","domainColor":"#8D9DC6","grid":false,
     "title":"资料来源：Mysteel、申万宏源研究","titleX":-47,"titleY":96,"titleAlign":"left","titleAnchor":"start","titleBaseline":"middle","titleFont":"Noto Sans CJK SC","titleFontSize":12,"titleFontWeight":"normal","titleColor":"#1F2A5C"}},
   "y":{"field":"v","type":"quantitative","scale":{"domain":[0,3000],"nice":false},
    "axis":{"values":[0,500,1000,1500,2000,2500,3000],"format":"d","labelFont":"Liberation Sans","labelFontSize":10,"labelColor":"#1F3268","labelPadding":5,"tickSize":3,"tickColor":"#8D9DC6","domainColor":"#8D9DC6","grid":false,"title":null}},
   "color":{"field":"s","type":"nominal","scale":{"domain":["2017","2018","2019","2020","2021"],"range":["#1B2F8A","#E3595C","#66CDF3","#F6C9C9","#17A2DC"]},
    "legend":{"orient":"none","legendX":-22,"legendY":153,"direction":"horizontal","columns":5,"title":null,"padding":0,"symbolType":"stroke","symbolSize":784,"symbolStrokeWidth":3.3,"labelFont":"Liberation Sans","labelFontSize":10.2,"labelColor":"#1F3268","labelOffset":0,"columnPadding":-3}}
  }},
 {"width":85,"height":110,"mark":"rect"},
 {"width":260,"height":110,"data":{"name":"c17"},
  "title":{"text":"图 17：板材厂库+社库周度公历同比（万吨）","anchor":"start","frame":"group","dx":-47,"offset":0,"baseline":"bottom","font":"Noto Sans CJK SC","fontSize":13.6,"fontWeight":"bold","color":"#1D3A8A"},
  "mark":{"type":"line","strokeWidth":2.3},
  "encoding":{
   "x":{"field":"w","type":"quantitative","scale":{"domain":[0.5,52.5],"nice":false,"zero":false},
    "axis":{"values":[1,2,3,4,5,6,7,8,9,10,11,12,13,14,15,16,17,18,19,20,21,22,23,24,25,26,27,28,29,30,31,32,33,34,35,36,37,38,39,40,41,42,43,44,45,46,47,48,49,50,51,52],"labelExpr":"(datum.value - 1) % 3 == 0 ? '第' + datum.value + '周' : ''","labelAngle":-90,"labelAlign":"right","labelBaseline":"middle","labelFlush":false,"labelOverlap":false,"labelFont":"Noto Sans CJK SC","labelFontSize":10,"labelColor":"#1F3268","labelPadding":3,"tickSize":3,"tickColor":"#8D9DC6","domainColor":"#8D9DC6","grid":false,
     "title":"资料来源：Mysteel、申万宏源研究","titleX":-48,"titleY":96,"titleAlign":"left","titleAnchor":"start","titleBaseline":"middle","titleFont":"Noto Sans CJK SC","titleFontSize":12,"titleFontWeight":"normal","titleColor":"#1F2A5C"}},
   "y":{"field":"v","type":"quantitative","scale":{"domain":[400,1100],"nice":false,"zero":false},
    "axis":{"values":[400,500,600,700,800,900,1000,1100],"format":"d","labelFont":"Liberation Sans","labelFontSize":10,"labelColor":"#1F3268","labelPadding":5,"tickSize":3,"tickColor":"#8D9DC6","domainColor":"#8D9DC6","grid":false,"title":null}},
   "color":{"field":"s","type":"nominal","scale":{"domain":["2017","2018","2019","2020","2021"],"range":["#1B2F8A","#E3595C","#66CDF3","#F6C9C9","#17A2DC"]},
    "legend":{"orient":"none","legendX":-22,"legendY":153,"direction":"horizontal","columns":5,"title":null,"padding":0,"symbolType":"stroke","symbolSize":784,"symbolStrokeWidth":3.3,"labelFont":"Liberation Sans","labelFontSize":10.2,"labelColor":"#1F3268","labelOffset":0,"columnPadding":-3}}
  }}
],"spacing":0,"bounds":"flush","resolve":{"scale":{"color":"independent"},"legend":{"color":"independent"}}},
{"width":1,"height":191,"mark":"rect"},
{"hconcat":[{"width":55,"height":1,"mark":"rect"},{"width":330,"height":1,"mark":"rect","view":{"fill":"#4F64A6"}},{"width":15,"height":1,"mark":"rect"},{"width":335,"height":1,"mark":"rect","view":{"fill":"#4F64A6"}}],"spacing":0,"bounds":"flush"},
{"width":1,"height":68,"mark":"rect"},
{"hconcat":[
 {"width":200,"height":24,"mark":"rect"},
 {"width":541,"height":24,"data":{"values":[{}]},"mark":{"type":"text","text":"2．投资建议：板材类公司业绩修复，特钢业绩穿越","font":"Noto Sans CJK SC","fontSize":24,"fontWeight":"bold","color":"#0F2F8F"}}
],"spacing":0,"bounds":"flush"},
{"width":1,"height":41,"mark":"rect"},
{"hconcat":[
 {"width":200,"height":24,"mark":"rect"},
 {"width":48,"height":24,"data":{"values":[{}]},"mark":{"type":"text","text":"周期","font":"Noto Sans CJK SC","fontSize":24,"fontWeight":"bold","color":"#0F2F8F"}}
],"spacing":0,"bounds":"flush"},
{"width":1,"height":47,"mark":"rect"},
{"hconcat":[
 {"width":234,"height":20,"mark":"rect"},
 {"width":462,"height":20,"data":{"values":[{}]},"mark":{"type":"text","text":"普钢方面，四季度板材类钢铁企业基本面持续改善，推荐受益于制造业复苏的","font":"Noto Sans CJK SC","fontSize":13.6,"color":"#3A3A3A"}},
 {"width":41,"height":20,"data":{"values":[{}]},"mark":{"type":"text","text":"宝钢股","font":"Noto Sans CJK SC","fontSize":13.6,"fontWeight":"bold","color":"#151515"}}
],"spacing":0,"bounds":"flush"},
{"width":1,"height":26,"mark":"rect"},
{"hconcat":[
 {"width":207,"height":20,"mark":"rect"},
 {"width":14,"height":20,"data":{"values":[{}]},"mark":{"type":"text","text":"份","font":"Noto Sans CJK SC","fontSize":13.6,"fontWeight":"bold","color":"#151515"}},
 {"width":95,"height":20,"data":{"values":[{}]},"mark":{"type":"text","text":"以及低估值标的","font":"Noto Sans CJK SC","fontSize":13.6,"color":"#3A3A3A"}},
 {"width":68,"height":20,"data":{"values":[{}]},"mark":{"type":"text","text":"华菱钢铁。","font":"Noto Sans CJK SC","fontSize":13.6,"fontWeight":"bold","color":"#151515"}},
 {"width":217,"height":20,"data":{"values":[{}]},"mark":{"type":"text","text":"特钢方面推荐穿越周期，业绩稳定的","font":"Noto Sans CJK SC","fontSize":13.6,"color":"#3A3A3A"}},
 {"width":55,"height":20,"data":{"values":[{}]},"mark":{"type":"text","text":"中信特钢","font":"Noto Sans CJK SC","fontSize":13.6,"fontWeight":"bold","color":"#151515"}},
 {"width":81,"height":20,"data":{"values":[{}]},"mark":{"type":"text","text":"，同时关注高","font":"Noto Sans CJK SC","fontSize":13.6,"color":"#3A3A3A"}}
],"spacing":0,"bounds":"flush"},
{"width":1,"height":26,"mark":"rect"},
{"hconcat":[
 {"width":207,"height":20,"mark":"rect"},
 {"width":68,"height":20,"data":{"values":[{}]},"mark":{"type":"text","text":"温合金标的","font":"Noto Sans CJK SC","fontSize":13.6,"color":"#3A3A3A"}},
 {"width":1,"height":20,"mark":"rect"},
 {"width":60,"height":20,"data":{"values":[{}]},"mark":{"type":"text","text":"ST 抚钢。","font":"Noto Sans CJK SC","fontSize":13.6,"fontWeight":"bold","color":"#151515"}}
],"spacing":0,"bounds":"flush"},
{"width":1,"height":270,"mark":"rect"},
{"hconcat":[
 {"width":55,"height":18,"mark":"rect","view":{"fill":"#C7E5F8"}},
 {"width":225,"height":18,"data":{"values":[{}]},"mark":{"type":"text","text":"请务必仔细阅读正文之后的各项信息披露与声明","font":"Noto Sans CJK SC","fontSize":10.7,"color":"#1F3B8A"},"view":{"fill":"#C7E5F8"}},
 {"width":153,"height":18,"mark":"rect","view":{"fill":"#C7E5F8"}},
 {"width":66,"height":18,"data":{"values":[{}]},"mark":{"type":"text","text":"第8页 共10页","font":"Noto Sans CJK SC","fontSize":10.7,"color":"#1F3B8A"},"view":{"fill":"#C7E5F8"}},
 {"width":151,"height":18,"mark":"rect","view":{"fill":"#C7E5F8"}},
 {"width":89,"height":18,"data":{"values":[{}]},"mark":{"type":"text","text":"简单金融 成就梦想","font":"Noto Sans CJK SC","fontSize":10.7,"color":"#1F3B8A"},"view":{"fill":"#C7E5F8"}},
 {"width":61,"height":18,"mark":"rect","view":{"fill":"#C7E5F8"}}
],"spacing":0,"bounds":"flush"},
{"width":1,"height":43,"mark":"rect"},
{"hconcat":[{"width":802,"height":2,"mark":"rect","view":{"fill":"#A6A6A6"}}],"spacing":0,"bounds":"flush"}
]
}
